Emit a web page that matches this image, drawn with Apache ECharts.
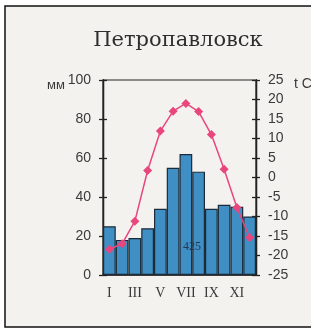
<!DOCTYPE html>
<html>
<head>
<meta charset="utf-8">
<script src="https://cdn.jsdelivr.net/npm/echarts@6/dist/echarts.min.js"></script>
<style>
  html, body { margin:0; padding:0; background:#fff; }
  #chart { width:311px; height:329px; }
</style>
</head>
<body>
<div id="chart"></div>
<script>
// данные климатограммы
const months = ["I","II","III","IV","V","VI","VII","VIII","IX","X","XI","XII"];
const precip = [25, 18, 19, 24, 34, 55, 62, 53, 34, 36, 35, 30];
const temp = [-18.4, -17, -11.2, 1.8, 11.9, 17, 19, 16.9, 11, 2.1, -7.7, -15.4];
const totalPrecip = "425";

const axisCol = "#222";
const txtCol = "#3a3a3a";

const myChart = echarts.init(document.getElementById("chart"));

// ось с засечками в обе стороны: вторая копия рисует внутренние засечки
function yAx(min, max, interval, pos, inside, labels) {
  return {
    type:"value", min, max, interval, position:pos,
    axisLine:{show:true, lineStyle:{color:axisCol, width:1.3}},
    axisTick:{show:true, inside, length:4, lineStyle:{color:axisCol, width:1.3}},
    axisLabel:{show:labels, color:txtCol, fontSize:14, fontFamily:"Liberation Sans", margin:12},
    splitLine:{show:false}
  };
}

myChart.setOption({
  backgroundColor:"#fff",
  animation:false,
  grid:{left:103, right:55, top:80, bottom:54, show:true, borderColor:axisCol, borderWidth:1.2},
  graphic:[
    {type:"rect", shape:{x:5, y:6, width:320, height:321}, z:-10,
      style:{fill:"#f4f2ef", stroke:"#111", lineWidth:1.5}},
    {type:"text", x:178, y:41, z:10, style:{text:"Петропавловск", fill:"#2e2e2e",
      font:"21px 'DejaVu Serif'", textAlign:"center", textVerticalAlign:"middle"}},
    {type:"text", x:47, y:85, z:10, style:{text:"мм", fill:txtCol,
      font:"13px 'Liberation Sans'", textVerticalAlign:"middle"}},
    {type:"text", x:294, y:84, z:10, style:{text:"t C", fill:txtCol,
      font:"14px 'Liberation Sans'", textVerticalAlign:"middle"}},
    {type:"text", x:192, y:247, z:10, style:{text:totalPrecip, fill:"#243a55",
      font:"12px 'Liberation Serif'", textAlign:"center", textVerticalAlign:"middle"}}
  ],
  xAxis:{
    type:"category", data:months,
    axisLine:{lineStyle:{color:axisCol, width:1.5}},
    axisTick:{interval:0, length:5, lineStyle:{color:axisCol, width:1.3}},
    axisLabel:{interval:1, color:txtCol, fontSize:14, fontFamily:"Liberation Serif", margin:11}
  },
  yAxis:[
    yAx(0, 100, 20, "left", false, true),
    yAx(-25, 25, 5, "right", false, true),
    yAx(0, 100, 20, "left", true, false),
    yAx(-25, 25, 5, "right", true, false)
  ],
  series:[
    {
      name:"осадки", type:"bar", data:precip, yAxisIndex:0, barCategoryGap:"0%",
      itemStyle:{color:"#3f8ec4", borderColor:"#1c2b38", borderWidth:1.2}
    },
    {
      name:"температура", type:"line", data:temp, yAxisIndex:1,
      symbol:"diamond", symbolSize:9, showAllSymbol:true, z:5,
      lineStyle:{color:"#e8467c", width:1.5},
      itemStyle:{color:"#e8467c"}
    }
  ]
});
</script>
</body>
</html>
